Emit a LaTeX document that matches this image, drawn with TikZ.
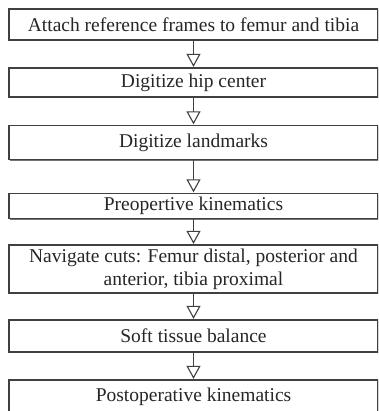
\documentclass[tikz,border=0pt]{standalone}
\usepackage{fontspec}
\setmainfont{Liberation Serif}
\usetikzlibrary{arrows.meta,positioning,shadows}
\definecolor{boxline}{HTML}{404040}
\tikzset{
  stepbox/.style={draw=boxline,fill=white,line width=1.1pt,align=center,
    minimum width=369pt,inner sep=0pt,text=black!85,
    font=\fontsize{19.5}{23}\selectfont,
    drop shadow={shadow xshift=1.2pt,shadow yshift=-1.2pt,fill=black!55,opacity=1}},
  steparrow/.style={-{Triangle[open,length=13pt,width=14pt,line width=1.1pt]},
    draw=boxline,line width=1.1pt,shorten >=0.6pt}
}
\begin{document}
\begin{tikzpicture}[x=1pt,y=-1pt]
  \path[use as bounding box,clip] (0,0) rectangle (378,411);
  \node[stepbox,minimum height=31pt] (attach) at (193.5,24.5) {Attach reference frames to femur and tibia};
  \node[stepbox,minimum height=29pt] (hip) at (193.5,82.5) {Digitize hip center};
  \node[stepbox,minimum height=34pt] (marks) at (193.5,142.5) {Digitize landmarks};
  \node[stepbox,minimum height=25pt] (preop) at (193.5,206) {Preopertive kinematics};
  \node[stepbox,minimum height=48pt] (cuts) at (193.5,269) {Navigate cuts: Femur distal, posterior and\\anterior, tibia proximal};
  \node[stepbox,minimum height=32pt] (soft) at (193.5,336) {Soft tissue balance};
  \node[stepbox,minimum height=34pt] (postop) at (193.5,397) {Postoperative kinematics};
  \draw[steparrow] (attach) -- (hip);
  \draw[steparrow] (hip) -- (marks);
  \draw[steparrow] (marks) -- (preop);
  \draw[steparrow] (preop) -- (cuts);
  \draw[steparrow] (cuts) -- (soft);
  \draw[steparrow] (soft) -- (postop);
\end{tikzpicture}
\end{document}
